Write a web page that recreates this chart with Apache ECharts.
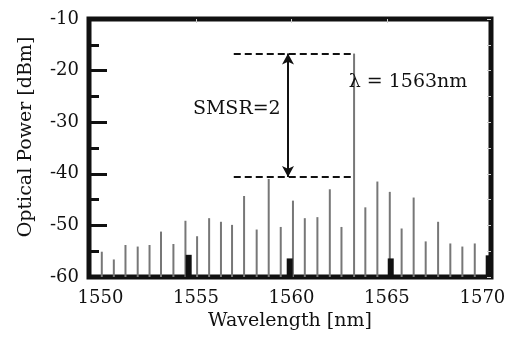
<!DOCTYPE html>
<html>
<head>
<meta charset="utf-8">
<script src="https://cdn.jsdelivr.net/npm/echarts@6/dist/echarts.min.js"></script>
<style>
  html, body { margin: 0; padding: 0; background: #fff; }
  #chart { width: 516px; height: 340px; }
</style>
</head>
<body>
<div id="chart"></div>
<script>
// comb lines (nm, dBm)
const wavelengths = [1550.07, 1550.70, 1551.31, 1551.95, 1552.57, 1553.17, 1553.82, 1554.45,
    1555.06, 1555.69, 1556.31, 1556.89, 1557.52, 1558.18, 1558.81, 1559.44, 1560.08, 1560.70,
    1561.36, 1562.01, 1562.62, 1563.28, 1563.87, 1564.50, 1565.15, 1565.77, 1566.40, 1567.03,
    1567.68, 1568.32, 1568.95, 1569.60];
const powers = [-55.1, -56.6, -53.8, -54.1, -53.8, -51.2, -53.6, -49.1,
    -52.1, -48.6, -49.3, -49.9, -44.3, -50.8, -41.0, -50.3, -45.2, -48.6,
    -48.4, -43.0, -50.3, -16.7, -46.5, -41.5, -43.5, -50.6, -44.6, -53.1,
    -49.3, -53.5, -54.1, -53.5];

// short dark markers near the axis
const markerWavelengths = [1554.62, 1559.91, 1565.20, 1570.33];
const markerPowers = [-55.7, -56.4, -56.4, -55.8];

const xTickLabels = [1550, 1555, 1560, 1565, 1570];

// SMSR annotation
const peakLevel = -16.7;
const sideLevel = -40.6;
const dashStart = 1556.98;
const peakWavelength = 1563.28;
const arrowWavelength = 1559.82;

const yMin = -60;
const font = 'DejaVu Serif';
const ink = '#111';

const chart = echarts.init(document.getElementById('chart'));

const lineData = wavelengths.map((w, i) => [w, powers[i]]);
const markerData = markerWavelengths.map((w, i) => [w, markerPowers[i]]);

const option = {
    animation: false,
    grid: {
        left: 89, right: 25, top: 19, bottom: 63,
        show: true,
        borderColor: ink,
        borderWidth: 5
    },
    xAxis: [{
        type: 'value',
        min: 1549.4,
        max: 1570.45,
        axisLine: { show: false },
        axisTick: { show: false },
        splitLine: { show: false },
        axisLabel: {
            customValues: xTickLabels,
            formatter: (v) => String(v),
            margin: 12,
            fontFamily: font,
            fontSize: 18,
            color: ink
        },
        name: 'Wavelength [nm]',
        nameLocation: 'middle',
        nameGap: 34,
        nameTextStyle: { fontFamily: font, fontSize: 19, color: ink }
    }, {
        type: 'value',
        position: 'top',
        min: 1549.4,
        max: 1570.45,
        axisLine: { show: false },
        axisTick: { inside: true, length: 4, lineStyle: { color: '#d0d0d0', width: 1 }, customValues: [1555, 1560, 1565] },
        axisLabel: { show: false, customValues: [1555, 1560, 1565] },
        splitLine: { show: false }
    }],
    yAxis: [{
        type: 'value',
        min: yMin,
        max: -10,
        interval: 10,
        axisLine: { show: false },
        axisTick: { inside: true, length: 18, lineStyle: { color: ink, width: 3 } },
        minorTick: { show: true, splitNumber: 2, length: 10, lineStyle: { color: ink, width: 3 } },
        splitLine: { show: false },
        axisLabel: {
            margin: 10,
            fontFamily: font,
            fontSize: 18,
            color: ink
        },
        name: 'Optical Power [dBm]',
        nameLocation: 'middle',
        nameGap: 53,
        nameTextStyle: { fontFamily: font, fontSize: 19, color: ink, padding: [0, 0, 0, 22] }
    }, {
        type: 'value',
        position: 'right',
        min: yMin,
        max: -10,
        interval: 5,
        axisLine: { show: false },
        axisTick: { inside: true, length: 4, lineStyle: { color: '#d0d0d0', width: 1 } },
        axisLabel: { show: false },
        splitLine: { show: false }
    }],
    series: [{
        name: 'lines',
        type: 'custom',
        data: lineData,
        renderItem: (params, api) => {
            const top = api.coord([api.value(0), api.value(1)]);
            const base = api.coord([api.value(0), yMin]);
            return {
                type: 'line',
                shape: { x1: top[0], y1: top[1], x2: base[0], y2: base[1] },
                style: { stroke: '#777', lineWidth: 2 }
            };
        },
        markLine: {
            silent: true,
            symbol: 'none',
            label: { show: false },
            lineStyle: { color: ink, width: 2, type: [7, 4] },
            data: [
                [{ coord: [dashStart, peakLevel] }, { coord: [peakWavelength, peakLevel] }],
                [{ coord: [dashStart, sideLevel] }, { coord: [peakWavelength, sideLevel] }],
                [
                    { coord: [arrowWavelength, peakLevel], symbol: 'arrow', symbolSize: [9, 11], lineStyle: { type: 'solid', color: ink, width: 2 } },
                    { coord: [arrowWavelength, sideLevel], symbol: 'arrow', symbolSize: [9, 11] }
                ]
            ]
        },
        markPoint: {
            silent: true,
            symbol: 'circle',
            symbolSize: 0,
            label: {
                show: true,
                position: 'right',
                distance: 0,
                formatter: '{b}',
                fontFamily: font,
                fontSize: 19,
                color: ink
            },
            data: [
                { name: 'λ = 1563nm', coord: [1563.0, -22.2] },
                { name: 'SMSR=2', coord: [1554.84, -27.4] }
            ]
        }
    }, {
        name: 'markers',
        type: 'custom',
        data: markerData,
        renderItem: (params, api) => {
            const top = api.coord([api.value(0), api.value(1)]);
            const base = api.coord([api.value(0), yMin]);
            return {
                type: 'rect',
                shape: { x: top[0] - 3, y: top[1], width: 6, height: base[1] - top[1] },
                style: { fill: '#111' }
            };
        }
    }]
};

chart.setOption(option);
</script>
</body>
</html>
